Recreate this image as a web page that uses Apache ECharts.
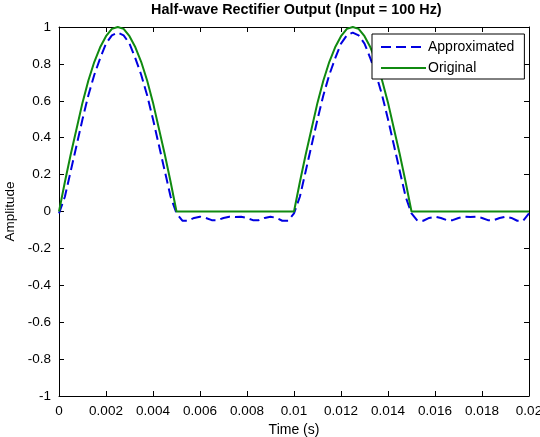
<!DOCTYPE html>
<html>
<head>
<meta charset="utf-8">
<script src="https://cdn.jsdelivr.net/npm/echarts@6/dist/echarts.min.js"></script>
<style>
  html, body { margin: 0; padding: 0; background: #fff; }
  #main { width: 540px; height: 437px; }
</style>
</head>
<body>
<div id="main"></div>
<script>
// time samples (s)
const time = [
  0, 0.00025, 0.0005, 0.00075, 0.001, 0.00125, 0.0015, 0.00175, 0.002, 0.00225,
  0.0025, 0.00275, 0.003, 0.00325, 0.0035, 0.00375, 0.004, 0.00425, 0.0045, 0.00475,
  0.005, 0.00525, 0.0055, 0.00575, 0.006, 0.00625, 0.0065, 0.00675, 0.007, 0.00725,
  0.0075, 0.00775, 0.008, 0.00825, 0.0085, 0.00875, 0.009, 0.00925, 0.0095, 0.00975,
  0.01, 0.01025, 0.0105, 0.01075, 0.011, 0.01125, 0.0115, 0.01175, 0.012, 0.01225,
  0.0125, 0.01275, 0.013, 0.01325, 0.0135, 0.01375, 0.014, 0.01425, 0.0145, 0.01475,
  0.015, 0.01525, 0.0155, 0.01575, 0.016, 0.01625, 0.0165, 0.01675, 0.017, 0.01725,
  0.0175, 0.01775, 0.018, 0.01825, 0.0185, 0.01875, 0.019, 0.01925, 0.0195, 0.01975,
  0.02
];

const original = [
  0, 0.16, 0.31, 0.45, 0.59, 0.71, 0.81, 0.89, 0.95, 0.99,
  1.0, 0.99, 0.95, 0.89, 0.81, 0.71, 0.59, 0.45, 0.31, 0.16,
  0, 0, 0, 0, 0, 0, 0, 0, 0, 0,
  0, 0, 0, 0, 0, 0, 0, 0, 0, 0,
  0, 0.16, 0.31, 0.45, 0.59, 0.71, 0.81, 0.89, 0.95, 0.99,
  1.0, 0.99, 0.95, 0.89, 0.81, 0.71, 0.59, 0.45, 0.31, 0.16,
  0, 0, 0, 0, 0, 0, 0, 0, 0, 0,
  0, 0, 0, 0, 0, 0, 0, 0, 0, 0,
  0
];

const approximated = [
  -0.01, 0.08, 0.22, 0.36, 0.50, 0.63, 0.74, 0.83, 0.91, 0.955,
  0.97, 0.955, 0.91, 0.83, 0.74, 0.63, 0.50, 0.36, 0.22, 0.08,
  -0.01, -0.05, -0.05, -0.035, -0.028, -0.035, -0.047, -0.047, -0.035, -0.028,
  -0.03, -0.028, -0.035, -0.047, -0.047, -0.035, -0.028, -0.035, -0.05, -0.05,
  -0.01, 0.08, 0.22, 0.36, 0.50, 0.63, 0.74, 0.83, 0.91, 0.955,
  0.97, 0.955, 0.91, 0.83, 0.74, 0.63, 0.50, 0.36, 0.22, 0.08,
  -0.01, -0.05, -0.05, -0.035, -0.028, -0.035, -0.047, -0.047, -0.035, -0.028,
  -0.03, -0.028, -0.035, -0.047, -0.047, -0.035, -0.028, -0.035, -0.05, -0.05,
  -0.01
];

const font = 'Arial, "Liberation Sans", sans-serif';

const chart = echarts.init(document.getElementById('main'));

const boxAxis = {
  axisLine: { show: true, onZero: false, lineStyle: { color: '#000', width: 1 } },
  axisTick: { show: true, inside: true, length: 5, lineStyle: { color: '#000' } },
  splitLine: { show: false }
};

const option = {
  backgroundColor: '#fff',
  animation: false,
  title: {
    text: 'Half-wave Rectifier Output (Input = 100 Hz)',
    left: 146,
    top: -2,
    textStyle: { fontFamily: font, fontSize: 14.4, fontWeight: 'bold', color: '#000' }
  },
  legend: {
    orient: 'vertical',
    left: 372,
    top: 34,
    padding: [6, 10, 4, 8],
    itemGap: 7,
    itemWidth: 45,
    itemHeight: 14,
    borderColor: '#000',
    borderWidth: 1,
    backgroundColor: '#fff',
    itemStyle: { opacity: 0 },
    textStyle: { fontFamily: font, fontSize: 14, color: '#000', padding: [0, 0, 0, -3] },
    data: ['Approximated', 'Original']
  },
  grid: { left: 59, right: 11, top: 27, bottom: 41, containLabel: false, outerBoundsMode: 'none' },
  xAxis: [
    Object.assign({
      type: 'value', min: 0, max: 0.02, interval: 0.002,
      name: 'Time (s)', nameLocation: 'middle', nameGap: 27,
      nameTextStyle: { fontFamily: font, fontSize: 14, color: '#000' },
      axisLabel: { fontFamily: font, fontSize: 13.5, color: '#000', margin: 8 }
    }, boxAxis),
    Object.assign({
      type: 'value', min: 0, max: 0.02, interval: 0.002, position: 'top',
      axisLabel: { show: false }
    }, boxAxis)
  ],
  yAxis: [
    Object.assign({
      type: 'value', min: -1, max: 1, interval: 0.2,
      name: 'Amplitude', nameLocation: 'middle', nameGap: 39,
      nameTextStyle: { fontFamily: font, fontSize: 13.5, color: '#000' },
      axisLabel: { fontFamily: font, fontSize: 13.5, color: '#000', margin: 8 }
    }, boxAxis),
    Object.assign({
      type: 'value', min: -1, max: 1, interval: 0.2, position: 'right',
      axisLabel: { show: false }
    }, boxAxis)
  ],
  series: [
    {
      name: 'Approximated',
      type: 'line',
      symbol: 'none',
      data: time.map((t, i) => [t, approximated[i]]),
      lineStyle: { color: '#0000e0', width: 2, type: [10, 5] },
      itemStyle: { color: '#0000e0' }
    },
    {
      name: 'Original',
      type: 'line',
      symbol: 'none',
      data: time.map((t, i) => [t, original[i]]),
      lineStyle: { color: '#108a10', width: 2 },
      itemStyle: { color: '#108a10' }
    }
  ]
};

chart.setOption(option);
</script>
</body>
</html>
